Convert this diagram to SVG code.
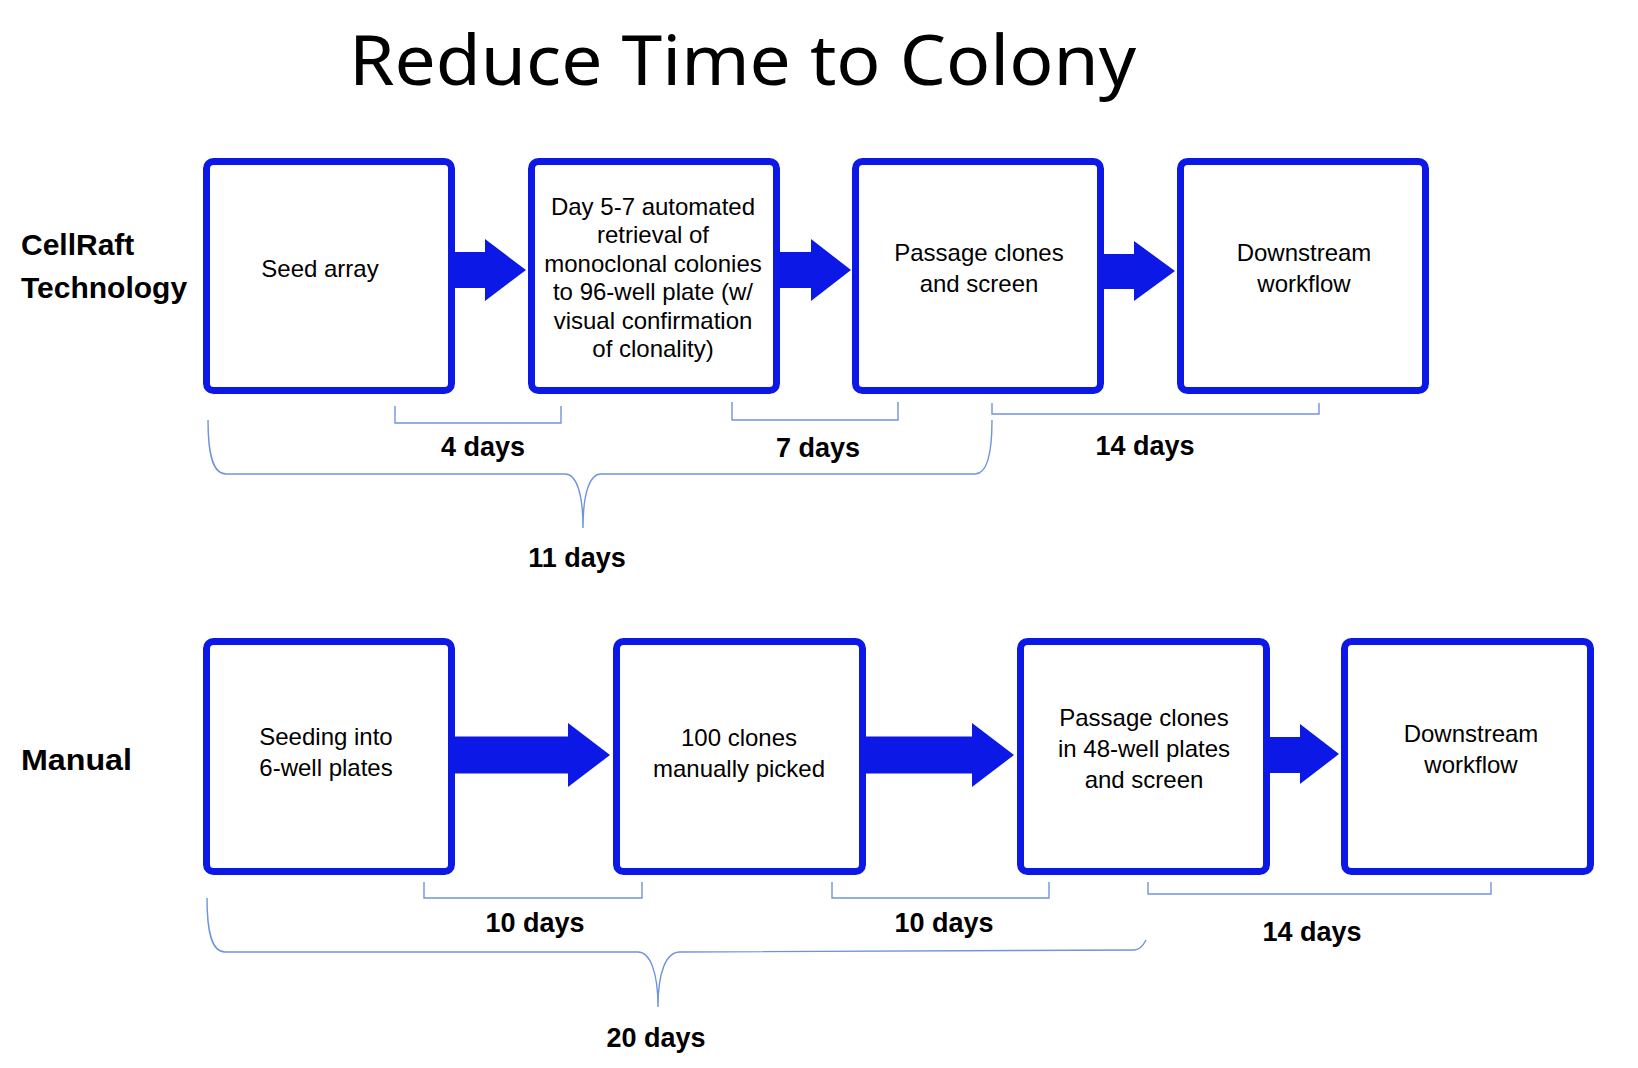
<svg xmlns="http://www.w3.org/2000/svg" width="1638" height="1068" viewBox="0 0 1638 1068">
  <style>
    .box { fill: #ffffff; stroke: #0B18E6; stroke-width: 7; }
    .arrow { fill: #0B18E6; stroke: none; }
    .brk { fill: none; stroke: #6F94DC; stroke-width: 1.4; }
    .t { font-family: "Liberation Sans", Arial, sans-serif; font-size: 24px; fill: #000; text-anchor: middle; }
    .lbl { font-family: "Liberation Sans", Arial, sans-serif; font-size: 30px; font-weight: bold; fill: #000; }
    .day { font-family: "Liberation Sans", Arial, sans-serif; font-size: 27px; font-weight: bold; fill: #000; text-anchor: middle; }
    .title { font-family: "Noto Sans", "Open Sans", sans-serif; font-size: 70px; fill: #000; }
  </style>
  <rect x="0" y="0" width="1638" height="1068" fill="#ffffff"/>

  <text class="title" x="349" y="85" textLength="787" lengthAdjust="spacingAndGlyphs">Reduce Time to Colony</text>

  <g id="row-labels">
    <text class="lbl" x="21" y="255">CellRaft</text>
    <text class="lbl" x="21" y="298">Technology</text>
    <text class="lbl" x="21" y="770" textLength="111" lengthAdjust="spacingAndGlyphs">Manual</text>
  </g>

  <g id="connectors">
    <polygon class="arrow" points="452,252 485,252 485,239 526,270 485,301 485,288 452,288"/>
    <polygon class="arrow" points="778,252 811,252 811,239 851,270 811,301 811,288 778,288"/>
    <polygon class="arrow" points="1102,254 1134,254 1134,241 1175,271 1134,301 1134,289 1102,289"/>
    <polygon class="arrow" points="452,736.5 568,736.5 568,723 610,755 568,787 568,773.5 452,773.5"/>
    <polygon class="arrow" points="863,736.5 972,736.5 972,723 1014,755 972,787 972,773.5 863,773.5"/>
    <polygon class="arrow" points="1267,737 1300,737 1300,724 1339,754 1300,784 1300,773 1267,773"/>
  </g>

  <g id="node-seed-array">
    <rect class="box" x="206.5" y="161.5" width="245" height="229" rx="7"/>
    <text class="t" x="320" y="277">Seed array</text>
  </g>
  <g id="node-automated-retrieval">
    <rect class="box" x="531.5" y="161.5" width="245" height="229" rx="7"/>
    <text class="t" x="653" y="215">Day 5-7 automated</text>
    <text class="t" x="653" y="243.4">retrieval of</text>
    <text class="t" x="653" y="271.8">monoclonal colonies</text>
    <text class="t" x="653" y="300.2">to 96-well plate (w/</text>
    <text class="t" x="653" y="328.6">visual confirmation</text>
    <text class="t" x="653" y="357">of clonality)</text>
  </g>
  <g id="node-passage-1">
    <rect class="box" x="855.5" y="161.5" width="245" height="229" rx="7"/>
    <text class="t" x="979" y="261">Passage clones</text>
    <text class="t" x="979" y="292">and screen</text>
  </g>
  <g id="node-downstream-1">
    <rect class="box" x="1180.5" y="161.5" width="245" height="229" rx="7"/>
    <text class="t" x="1304" y="261">Downstream</text>
    <text class="t" x="1304" y="292">workflow</text>
  </g>

  <g id="node-seeding-6well">
    <rect class="box" x="206.5" y="641.5" width="245" height="230" rx="7"/>
    <text class="t" x="326" y="745">Seeding into</text>
    <text class="t" x="326" y="776">6-well plates</text>
  </g>
  <g id="node-manual-pick">
    <rect class="box" x="616.5" y="641.5" width="246" height="230" rx="7"/>
    <text class="t" x="739" y="746">100 clones</text>
    <text class="t" x="739" y="777">manually picked</text>
  </g>
  <g id="node-passage-2">
    <rect class="box" x="1020.5" y="641.5" width="246" height="230" rx="7"/>
    <text class="t" x="1144" y="726">Passage clones</text>
    <text class="t" x="1144" y="757">in 48-well plates</text>
    <text class="t" x="1144" y="788">and screen</text>
  </g>
  <g id="node-downstream-2">
    <rect class="box" x="1344.5" y="641.5" width="246" height="230" rx="7"/>
    <text class="t" x="1471" y="742">Downstream</text>
    <text class="t" x="1471" y="773">workflow</text>
  </g>

  <g id="brackets">
    <path class="brk" d="M395 406 L395 423 L561 423 L561 406"/>
    <path class="brk" d="M732 402 L732 420 L898 420 L898 402"/>
    <path class="brk" d="M992 403 L992 414 L1319 414 L1319 403"/>
    <path class="brk" d="M208 420 C208 452 212 474 226 474 L565 474 C576 474 583 492 583 528 C583 492 590 474 601 474 L975 474 C988 474 992 452 992 420"/>
    <path class="brk" d="M424 882 L424 898 L642 898 L642 882"/>
    <path class="brk" d="M832 882 L832 898 L1049 898 L1049 882"/>
    <path class="brk" d="M1148 882 L1148 894 L1491 894 L1491 882"/>
    <path class="brk" d="M207 898 C207 930 211 952 225 952 L638 952 C650 952 658 972 658 1007 C658 972 666 952 680 952 L1134 950 C1140 950 1143 946 1146 940"/>
  </g>

  <g id="durations">
    <text class="day" x="483" y="456">4 days</text>
    <text class="day" x="818" y="457">7 days</text>
    <text class="day" x="1145" y="455">14 days</text>
    <text class="day" x="577" y="567">11 days</text>
    <text class="day" x="535" y="932">10 days</text>
    <text class="day" x="944" y="932">10 days</text>
    <text class="day" x="1312" y="941">14 days</text>
    <text class="day" x="656" y="1047">20 days</text>
  </g>
</svg>
